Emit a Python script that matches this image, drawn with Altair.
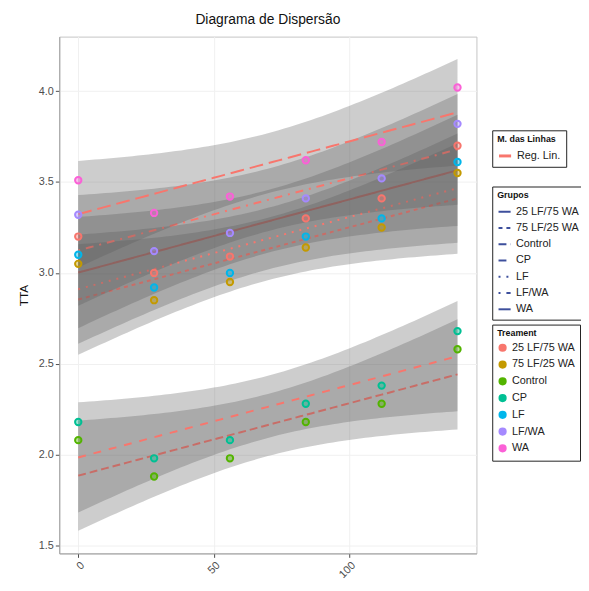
import altair as alt
import pandas as pd

# ---------------- data ----------------
days = [0, 28, 56, 84, 112, 140]
treatments = ["25 LF/75 WA", "75 LF/25 WA", "Control", "CP", "LF", "LF/WA", "WA"]
tta_25lf75wa = [3.20, 3.00, 3.09, 3.30, 3.41, 3.70]
tta_75lf25wa = [3.05, 2.85, 2.95, 3.14, 3.25, 3.55]
tta_control = [2.08, 1.88, 1.98, 2.18, 2.28, 2.58]
tta_cp = [2.18, 1.98, 2.08, 2.28, 2.38, 2.68]
tta_lf = [3.10, 2.92, 3.00, 3.20, 3.30, 3.61]
tta_lfwa = [3.32, 3.12, 3.22, 3.41, 3.52, 3.82]
tta_wa = [3.51, 3.33, 3.42, 3.62, 3.72, 4.02]
y_ticks = [1.5, 2.0, 2.5, 3.0, 3.5, 4.0]
x_ticks = [0, 50, 100]

series = [tta_25lf75wa, tta_75lf25wa, tta_control, tta_cp, tta_lf, tta_lfwa, tta_wa]
rows = []
for t, vals in zip(treatments, series):
    for d, v in zip(days, vals):
        rows.append({"treatment": t, "day": d, "value": v})
df = pd.DataFrame(rows)

# ---------------- styles ----------------
point_colors = ["#F8766D", "#C49A00", "#53B400", "#00C094", "#00B6EB", "#A58AFF", "#FB61D7"]
dashes = [[1, 0], [4, 4], [8, 4], [8, 8], [2, 6], [2, 6, 8, 6], [14, 6]]
T_CRIT = 2.776  # Student t quantile 0.975, df = 4 (95% band, as geom_smooth)

xscale = alt.Scale(domain=[-7, 147], nice=False, zero=False)
yscale = alt.Scale(domain=[1.457, 4.30], nice=False, zero=False)
xaxis = alt.Axis(values=x_ticks, title="", labelAngle=-45, format="d")
yaxis = alt.Axis(values=y_ticks, title="TTA", format=".1f")

LEG = dict(strokeColor="#222222", padding=5, fillColor="white",
           titleFontSize=9, titleFontWeight="bold", titleColor="#111111",
           labelFontSize=11, labelColor="#222222", titlePadding=4,
           labelLimit=200, orient="none", legendX=439)


def fit_base(t):
    return (
        alt.Chart(df)
        .transform_filter(alt.datum.treatment == t)
        .transform_joinaggregate(mx="mean(day)", my="mean(value)", n="count()")
        .transform_calculate(dxx="(datum.day-datum.mx)*(datum.day-datum.mx)")
        .transform_calculate(dxy="(datum.day-datum.mx)*(datum.value-datum.my)")
        .transform_joinaggregate(sxx="sum(dxx)", sxy="sum(dxy)")
        .transform_calculate(b="datum.sxy/datum.sxx")
        .transform_calculate(a="datum.my-datum.b*datum.mx")
        .transform_calculate(r2="pow(datum.value-datum.a-datum.b*datum.day,2)")
        .transform_joinaggregate(sse="sum(r2)")
        .transform_aggregate(
            a="min(a)", b="min(b)", sse="min(sse)", mx="min(mx)",
            sxx="min(sxx)", n="min(n)", xmin="min(day)", xmax="max(day)",
            groupby=["treatment"],
        )
        .transform_calculate(gx="sequence(datum.xmin, datum.xmax + 1, 2)")
        .transform_flatten(["gx"])
        .transform_calculate(fit="datum.a + datum.b*datum.gx")
        .transform_calculate(
            se="sqrt(datum.sse/(datum.n-2))*sqrt(1/datum.n + pow(datum.gx-datum.mx,2)/datum.sxx)"
        )
        .transform_calculate(lo=f"datum.fit - {T_CRIT}*datum.se")
        .transform_calculate(hi=f"datum.fit + {T_CRIT}*datum.se")
        .transform_calculate(lab="'Reg. Lin.'")
    )


layers = []
for t in treatments:
    base = fit_base(t)
    band = base.mark_area(color="#5a5a5a", opacity=0.3).encode(
        x=alt.X("gx:Q", scale=xscale, axis=xaxis),
        y=alt.Y("lo:Q", scale=yscale, axis=yaxis),
        y2="hi:Q",
    )
    line = base.mark_line(strokeWidth=2).encode(
        x=alt.X("gx:Q", scale=xscale, axis=xaxis),
        y=alt.Y("fit:Q", scale=yscale, axis=yaxis),
        stroke=alt.Stroke(
            "lab:N",
            scale=alt.Scale(domain=["Reg. Lin."], range=["#F8766D"]),
            legend=alt.Legend(title="M. das Linhas", symbolType="stroke",
                              symbolStrokeWidth=3, symbolSize=150,
                              legendY=95, rowPadding=3, **LEG),
        ),
        strokeDash=alt.StrokeDash(
            "treatment:N",
            scale=alt.Scale(domain=treatments, range=dashes),
            legend=alt.Legend(title="Grupos", symbolType="stroke",
                              symbolStrokeColor="#3d4f9c", symbolStrokeWidth=2,
                              symbolSize=150, legendY=152, rowPadding=3.5, **LEG),
        ),
    )
    layers += [band, line]

pscale = alt.Scale(range=point_colors)
plegend = alt.Legend(title="Treament", symbolType="circle", symbolSize=40,
                     symbolStrokeWidth=2, legendY=292, rowPadding=2, **LEG)
pcolor = alt.Color("treatment:N", sort=treatments, scale=pscale, legend=plegend)
rings = alt.Chart(df).mark_point(
    filled=False, size=42, strokeWidth=2, opacity=1
).encode(
    x=alt.X("day:Q", scale=xscale, axis=xaxis),
    y=alt.Y("value:Q", scale=yscale, axis=yaxis),
    color=pcolor,
)
cores = alt.Chart(df).mark_point(
    filled=True, size=42, opacity=0.4
).encode(
    x=alt.X("day:Q", scale=xscale, axis=xaxis),
    y=alt.Y("value:Q", scale=yscale, axis=yaxis),
    color=pcolor,
)
layers += [rings, cores]

chart = (
    alt.layer(*layers)
    .properties(
        width=423,
        height=524,
        padding={"left": 52, "top": 25, "right": 106, "bottom": 26},
        autosize=alt.AutoSizeParams(type="none"),
        title=alt.Title("Diagrama de Dispersão", fontSize=14, fontWeight="normal",
                        anchor="middle", offset=10, color="#111111"),
    )
    .configure(font="Liberation Sans")
    .configure_view(stroke="#c4c4c4", strokeWidth=1)
    .configure_axis(
        grid=True, gridColor="#f0f0f0", gridWidth=1,
        labelFontSize=11, labelColor="#4d4d4d", tickColor="#4d4d4d",
        tickSize=4, domainColor="#a0a0a0", titleFontSize=12,
        titleFontWeight="normal", titleColor="#111111", labelPadding=2,
        titlePadding=8,
    )
)

chart.save("out.html", embed_options={"renderer": "svg", "actions": False})
